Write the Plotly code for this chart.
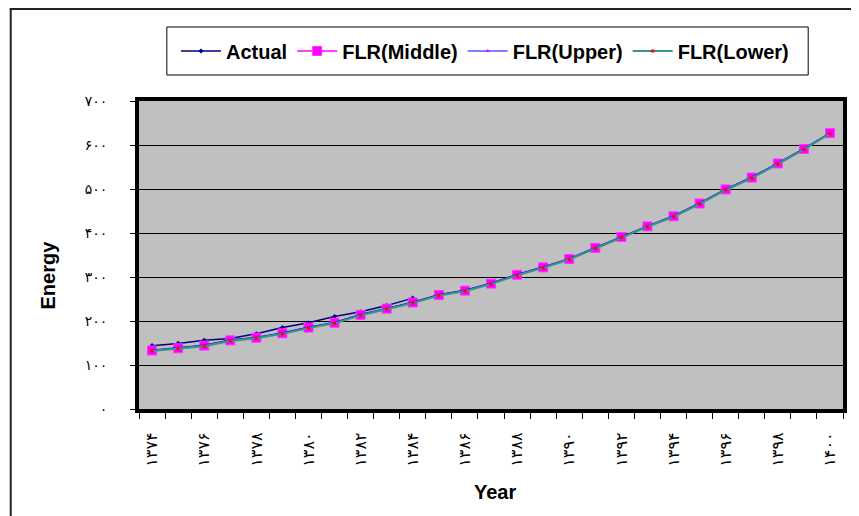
import plotly.graph_objects as go

years = list(range(1374, 1401))
actual_years = list(range(1374, 1385))
actual = [144, 149, 156, 160, 171, 185, 196, 210, 221, 235, 252]
flr_middle = [133, 138, 144, 156, 162, 172, 185, 196, 214, 228, 242, 259, 269, 285, 305,
              322, 341, 366, 391, 415, 438, 467, 499, 526, 558, 591, 627]
flr_upper = [134, 139, 145, 157, 163, 173, 186, 197, 215, 229, 243, 260, 270, 286, 306,
             323, 342, 367, 392, 416, 439, 468, 500, 527, 559, 592, 628]
flr_lower = [132, 137, 143, 155, 161, 171, 184, 195, 213, 227, 241, 258, 268, 284, 304,
             321, 340, 365, 390, 414, 437, 466, 498, 525, 557, 590, 626]

fa_digits = "۰۱۲۳۴۵۶۷۸۹"
def to_fa(n):
    return "".join(fa_digits[int(c)] for c in str(n))

x_tickvals = years[::2]
x_ticktext = [to_fa(v) for v in x_tickvals]
y_tickvals = list(range(0, 701, 100))
y_ticktext = [to_fa(v) for v in y_tickvals]
boundaries = [y - 0.5 for y in years] + [years[-1] + 0.5]

fig = go.Figure()
fig.add_trace(go.Scatter(x=actual_years, y=actual, name="Actual", mode="lines+markers",
                         line=dict(color="#000080", width=1.5),
                         marker=dict(symbol="diamond", size=4, color="#000080")))
fig.add_trace(go.Scatter(x=years, y=flr_middle, name="FLR(Middle)", mode="lines+markers",
                         line=dict(color="#FF00FF", width=1.5),
                         marker=dict(symbol="square", size=9, color="#FF00FF",
                                     line=dict(color="#FF33FF", width=1))))
fig.add_trace(go.Scatter(x=years, y=flr_upper, name="FLR(Upper)", mode="lines+markers",
                         line=dict(color="#0000FF", width=1.2),
                         marker=dict(symbol="triangle-up", size=4, color="#FF00FF")))
fig.add_trace(go.Scatter(x=years, y=flr_lower, name="FLR(Lower)", mode="lines+markers",
                         line=dict(color="#3A9485", width=2.2),
                         marker=dict(symbol="square", size=3, color="#FF0000")))

OFF = 8  # page body margin
W, H = 859 - OFF, 516 - OFF
L = 139 - OFF
T = 101 - OFF
R = W - (847 - OFF)
B = H - (409 - OFF)
pw, ph = W - L - R, H - T - B
def px(x):
    return (x - OFF - L) / pw
def py(y):
    return (H - B - (y - OFF)) / ph

fig.update_layout(
    width=W, height=H,
    margin=dict(l=L, r=R, t=T, b=B),
    paper_bgcolor="white",
    plot_bgcolor="#C0C0C0",
    showlegend=True,
    legend=dict(orientation="h", x=px(487), y=py(51), xanchor="center", yanchor="middle",
                borderwidth=0, bgcolor="rgba(0,0,0,0)",
                font=dict(family="Arial, Liberation Sans", size=20, color="black", weight="bold"),
                itemwidth=40, tracegroupgap=0),
    xaxis=dict(range=[years[0] - 0.5, years[-1] + 0.5], tickmode="array",
               tickvals=x_tickvals, ticktext=x_ticktext, tickangle=-90,
               ticks="", showgrid=False, zeroline=False,
               showline=True, linewidth=4, linecolor="black", mirror=True,
               tickfont=dict(family="DejaVu Sans", size=16, color="black"),
               ticklabelstandoff=13,
               minor=dict(tickmode="array", tickvals=boundaries, ticks="outside",
                          ticklen=6, tickwidth=1, tickcolor="black", showgrid=False)),
    yaxis=dict(range=[0, 700], tickmode="array", tickvals=y_tickvals, ticktext=y_ticktext,
               ticks="outside", ticklen=5, tickwidth=1, tickcolor="black",
               showgrid=True, gridcolor="black", gridwidth=1, zeroline=False,
               showline=True, linewidth=4, linecolor="black", mirror=True,
               tickfont=dict(family="DejaVu Sans", size=14, color="black"),
               ticklabelstandoff=20),
    annotations=[
        dict(text="Year", x=px(497), y=py(492), xref="paper", yref="paper",
             showarrow=False, xanchor="center", yanchor="middle",
             font=dict(family="Arial, Liberation Sans", size=20, color="black", weight="bold")),
        dict(text="Energy", x=px(47), y=py(275), xref="paper", yref="paper",
             showarrow=False, xanchor="center", yanchor="middle", textangle=-90,
             font=dict(family="Arial, Liberation Sans", size=20, color="black", weight="bold")),
    ],
    shapes=[
        dict(type="line", xref="paper", yref="paper", x0=px(9), x1=px(870), y0=py(9), y1=py(9),
             line=dict(color="#222222", width=2)),
        dict(type="line", xref="paper", yref="paper", x0=px(10), x1=px(10), y0=py(9), y1=py(530),
             line=dict(color="#222222", width=2)),
        dict(type="rect", xref="paper", yref="paper", x0=px(167), x1=px(812), y0=py(27), y1=py(75),
             line=dict(color="black", width=1), fillcolor="white", layer="below"),
    ],
)

fig.write_html("out.html")
